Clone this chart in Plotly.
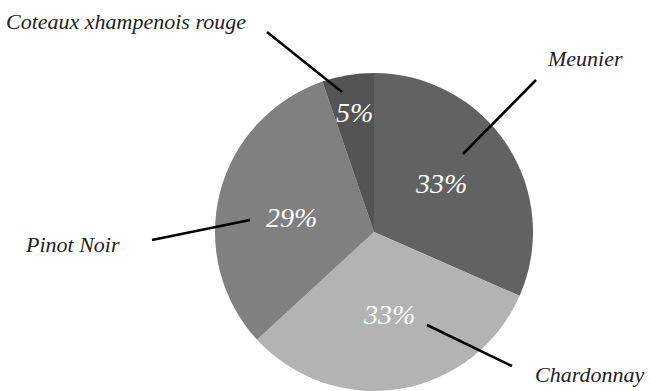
import math
import plotly.graph_objects as go

# ---- data ----
labels = ["Meunier", "Chardonnay", "Pinot Noir", "Coteaux xhampenois rouge"]
values = [6, 6, 6, 1]
shown_pct = ["33%", "33%", "29%", "5%"]
colors = ["#626262", "#b3b3b3", "#808080", "#545454"]

W, H = 651, 391
CX, CY, R = 374, 232, 159  # pie center / radius in pixels

# label layout (pixel positions of outside labels and leader lines)
label_pos = {
    "Meunier": dict(text_xy=(585, 58), line=((536, 80), (463, 154))),
    "Chardonnay": dict(text_xy=(589, 374), line=((427, 325), (512, 366))),
    "Pinot Noir": dict(text_xy=(72, 244), line=((152, 240), (250, 220))),
    "Coteaux xhampenois rouge": dict(text_xy=(126, 22), line=((267, 32), (342, 92))),
}
# placement of inside percentage text: radial fraction and angular nudge (deg)
pct_radius = [0.52, 0.53, 0.53, 0.76]
pct_nudge = [-3, -1, -4, 0]


def px(x):
    return x / W


def py(y):
    return 1 - y / H


fig = go.Figure(go.Pie(
    labels=labels,
    values=values,
    sort=False,
    direction="clockwise",
    rotation=0,
    marker=dict(colors=colors, line=dict(width=0)),
    textinfo="none",
    hoverinfo="label+percent",
    showlegend=False,
    domain=dict(x=[px(CX - R), px(CX + R)], y=[py(CY + R), py(CY - R)]),
))

label_font = dict(family="Liberation Serif", size=22, color="#222222", style="italic")
pct_font = dict(family="Liberation Serif", size=28, color="white", style="italic")

annotations = []
shapes = []
total = sum(values)
cum = 0
for lab, v, t, rf, nd in zip(labels, values, shown_pct, pct_radius, pct_nudge):
    mid = (cum + v / 2) / total * 2 * math.pi + math.radians(nd)
    cum += v
    tx = CX + rf * R * math.sin(mid)
    ty = CY - rf * R * math.cos(mid)
    annotations.append(dict(x=px(tx), y=py(ty), xref="paper", yref="paper",
                            xanchor="center", yanchor="middle",
                            text=t, showarrow=False, font=pct_font))
    lp = label_pos[lab]
    annotations.append(dict(x=px(lp["text_xy"][0]), y=py(lp["text_xy"][1]),
                            xref="paper", yref="paper", text=lab,
                            xanchor="center", yanchor="middle",
                            showarrow=False, font=label_font))
    (x0, y0), (x1, y1) = lp["line"]
    shapes.append(dict(type="line", xref="paper", yref="paper",
                       x0=px(x0), y0=py(y0), x1=px(x1), y1=py(y1),
                       line=dict(color="black", width=2.5)))

fig.update_layout(
    width=W, height=H,
    margin=dict(l=0, r=0, t=0, b=0),
    paper_bgcolor="white",
    plot_bgcolor="white",
    annotations=annotations,
    shapes=shapes,
)

fig.write_html("out.html", config={"displayModeBar": False},
               post_script="document.body.style.margin='0';document.body.style.overflow='hidden';")
